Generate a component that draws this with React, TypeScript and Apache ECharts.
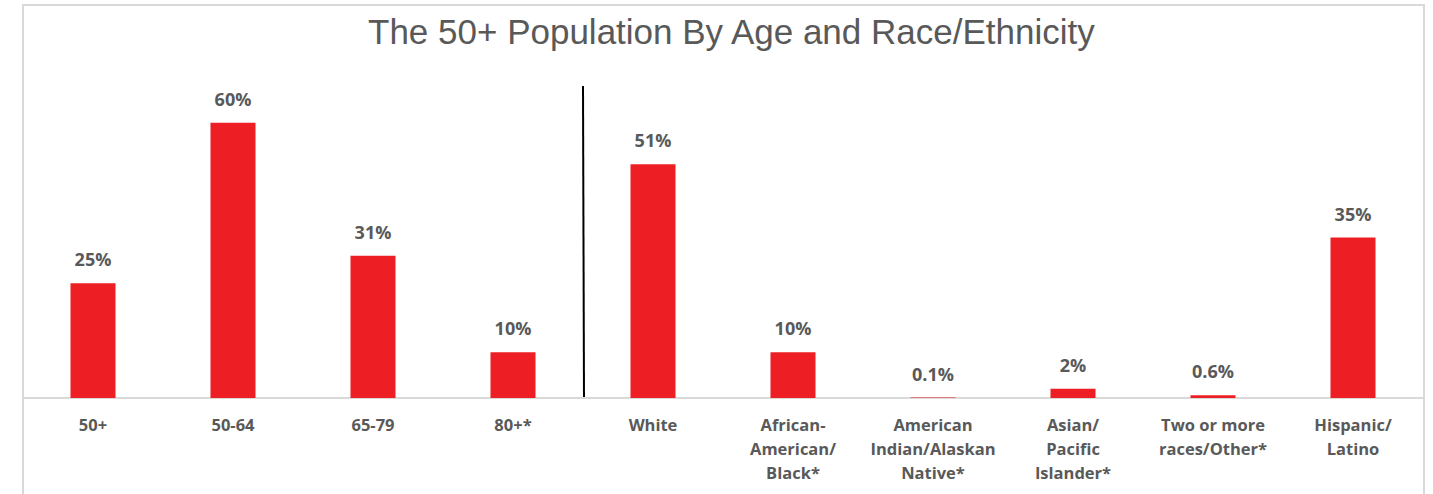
import React, { useEffect, useRef } from "react";
import * as echarts from "echarts";

const categories = [
  "50+",
  "50-64",
  "65-79",
  "80+*",
  "White",
  "African-\nAmerican/\nBlack*",
  "American\nIndian/Alaskan\nNative*",
  "Asian/\nPacific\nIslander*",
  "Two or more\nraces/Other*",
  "Hispanic/\nLatino",
];
const values = [25, 60, 31, 10, 51, 10, 0.1, 2, 0.6, 35];
const valueLabels = ["25%", "60%", "31%", "10%", "51%", "10%", "0.1%", "2%", "0.6%", "35%"];
const dividerAfterIndex = 3;

export default function App() {
  const ref = useRef<HTMLDivElement>(null);
  useEffect(() => {
    if (!ref.current) return;
    const chart = echarts.init(ref.current, null, { renderer: "svg" });
    const font = "'Open Sans', Lato, sans-serif";
    chart.setOption({
      animation: false,
      title: {
        text: "The 50+ Population By Age and Race/Ethnicity",
        left: 363,
        top: 9,
        textStyle: { fontFamily: "'Liberation Sans', Arial, sans-serif", fontSize: 35, fontWeight: "normal", color: "#595959" },
      },
      grid: { left: 23, right: 10, top: 77, bottom: 96 },
      xAxis: {
        type: "category",
        data: categories,
        axisLine: { lineStyle: { color: "#d9d9d9", width: 2 } },
        axisTick: { show: false },
        axisLabel: {
          interval: 0,
          margin: 14,
          fontFamily: font,
          fontSize: 16.5,
          fontWeight: "bold",
          color: "#595959",
          lineHeight: 24,
        },
      },
      yAxis: {
        type: "value",
        min: 0,
        max: 70,
        show: false,
        splitLine: { show: false },
      },
      series: [
        {
          type: "bar",
          data: values,
          barWidth: 45,
          itemStyle: { color: "#ED1F24" },
          label: {
            show: true,
            position: "top",
            distance: 15,
            fontFamily: font,
            fontSize: 18,
            fontWeight: "bold",
            color: "#595959",
            formatter: (p: any) => valueLabels[p.dataIndex],
          },
        },
      ],
    });
    const x1 = chart.convertToPixel({ xAxisIndex: 0 }, dividerAfterIndex) as number;
    const x2 = chart.convertToPixel({ xAxisIndex: 0 }, dividerAfterIndex + 1) as number;
    const y0 = chart.convertToPixel({ yAxisIndex: 0 }, 0) as number;
    const xm = (x1 + x2) / 2;
    chart.setOption({
      graphic: [
        {
          type: "rect",
          shape: { x: 23, y: 5, width: 1401, height: 520 },
          style: { fill: "none", stroke: "#d9d9d9", lineWidth: 2 },
          silent: true,
        },
        {
          type: "line",
          shape: { x1: xm, y1: 86, x2: xm + 1, y2: y0 },
          style: { stroke: "#000", lineWidth: 2 },
          silent: true,
        },
      ],
    });
    return () => chart.dispose();
  }, []);
  return (
    <div
      ref={ref}
      style={{ position: "absolute", left: 0, top: 0, width: 1433, height: 494, background: "#fff" }}
    />
  );
}
